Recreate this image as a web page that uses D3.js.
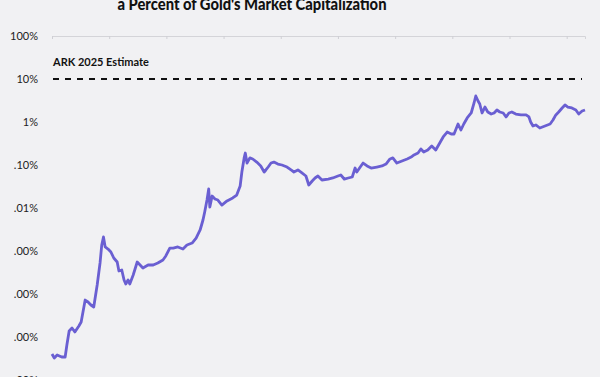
<!DOCTYPE html>
<html>
<head>
<meta charset="utf-8">
<script src="https://cdn.jsdelivr.net/npm/d3@7"></script>
<style>
  html, body { margin: 0; padding: 0; background: #f1f1f3; }
  svg { display: block; }
</style>
</head>
<body>
<svg id="chart" width="600" height="377"></svg>
<script>
// ---- data ----
const titleText = "a Percent of Gold's Market Capitalization";
const estimateLabel = "ARK 2025 Estimate";
const estimateValue = 10; // percent
const yTickValues = [100, 10, 1, 0.1, 0.01, 0.001, 0.0001, 0.00001, 0.000001];
const yTickLabels = ["100%", "10%", "1%", ".10%", ".01%", ".00%", ".00%", ".00%", ".00%"];
const xTickYears = [2010.54, 2011.54, 2012.54, 2013.54, 2014.54, 2015.54, 2016.54, 2017.54, 2018.54, 2019.54];
const years = [
  2010.54, 2010.58, 2010.63, 2010.71, 2010.77, 2010.80, 2010.84, 2010.89, 2010.94, 2011.01,
  2011.05, 2011.12, 2011.17, 2011.22, 2011.27, 2011.33, 2011.38, 2011.41, 2011.44, 2011.47,
  2011.52, 2011.57, 2011.62, 2011.68, 2011.71, 2011.76, 2011.80, 2011.83, 2011.87, 2011.90,
  2011.96, 2012.03, 2012.08, 2012.13, 2012.22, 2012.31, 2012.39, 2012.48, 2012.53, 2012.60,
  2012.66, 2012.74, 2012.83, 2012.90, 2012.99, 2013.06, 2013.13, 2013.18, 2013.21, 2013.25,
  2013.28, 2013.30, 2013.34, 2013.39, 2013.44, 2013.51, 2013.60, 2013.70, 2013.77, 2013.83,
  2013.86, 2013.90, 2013.92, 2013.95, 2014.00, 2014.05, 2014.12, 2014.19, 2014.25, 2014.28,
  2014.32, 2014.37, 2014.42, 2014.49, 2014.56, 2014.65, 2014.72, 2014.77, 2014.84, 2014.91,
  2014.98, 2015.03, 2015.09, 2015.14, 2015.19, 2015.26, 2015.37, 2015.45, 2015.54, 2015.59,
  2015.65, 2015.72, 2015.79, 2015.84, 2015.87, 2015.93, 2015.98, 2016.05, 2016.12, 2016.22,
  2016.31, 2016.38, 2016.45, 2016.50, 2016.57, 2016.66, 2016.75, 2016.82, 2016.87, 2016.94,
  2016.99, 2017.04, 2017.11, 2017.18, 2017.25, 2017.32, 2017.38, 2017.45, 2017.52, 2017.57,
  2017.64, 2017.69, 2017.74, 2017.80, 2017.87, 2017.92, 2017.95, 2017.99, 2018.02, 2018.06,
  2018.11, 2018.16, 2018.22, 2018.27, 2018.32, 2018.37, 2018.43, 2018.48, 2018.53, 2018.58,
  2018.65, 2018.74, 2018.83, 2018.88, 2018.91, 2018.95, 2019.00, 2019.07, 2019.16, 2019.25,
  2019.30, 2019.35, 2019.40, 2019.46, 2019.51, 2019.56, 2019.63, 2019.70, 2019.75, 2019.81,
  2019.86
];
const pctOfGold = [
  4.03e-6, 3.25e-6, 3.81e-6, 3.43e-6, 3.43e-6, 6.52e-6, 1.38e-5, 1.62e-5, 1.31e-5, 1.80e-5,
  2.23e-5, 7.24e-5, 6.52e-5, 5.55e-5, 4.99e-5, 1.62e-4, 5.26e-4, 1.38e-3, 2.12e-3, 1.24e-3,
  1.11e-3, 9.48e-4, 6.88e-4, 5.55e-4, 3.43e-4, 3.61e-4, 2.12e-4, 1.71e-4, 2.12e-4, 1.71e-4,
  2.77e-4, 5.55e-4, 4.72e-4, 4.03e-4, 4.72e-4, 4.72e-4, 5.26e-4, 6.18e-4, 7.66e-4, 1.17e-3,
  1.17e-3, 1.24e-3, 1.11e-3, 1.38e-3, 1.53e-3, 2.00e-3, 3.08e-3, 5.26e-3, 8.07e-3, 1.53e-2,
  2.77e-2, 1.05e-2, 1.90e-2, 1.62e-2, 1.53e-2, 1.17e-2, 1.46e-2, 1.71e-2, 2.00e-2, 3.25e-2,
  6.88e-2, 0.146, 0.190, 0.111, 0.146, 0.138, 0.117, 0.0948, 0.0688, 0.0766,
  0.0898, 0.111, 0.117, 0.105, 0.100, 0.0898, 0.0766, 0.0688, 0.0766, 0.0652,
  0.0555, 0.0343, 0.0425, 0.0499, 0.0555, 0.0448, 0.0472, 0.0499, 0.0555, 0.0585,
  0.0472, 0.0499, 0.0526, 0.0851, 0.0688, 0.0898, 0.111, 0.0948, 0.0851, 0.0898,
  0.0948, 0.105, 0.138, 0.146, 0.111, 0.124, 0.138, 0.153, 0.171, 0.190,
  0.236, 0.200, 0.223, 0.277, 0.223, 0.325, 0.448, 0.585, 0.526, 0.526,
  0.898, 0.652, 0.898, 1.24, 1.62, 2.77, 4.03, 3.08, 2.62, 1.62,
  2.23, 1.71, 1.53, 1.62, 1.90, 1.71, 1.62, 1.31, 1.62, 1.71,
  1.53, 1.46, 1.46, 1.31, 1.00, 0.807, 0.852, 0.725, 0.807, 0.898,
  1.11, 1.46, 1.71, 2.12, 2.49, 2.23, 2.12, 1.90, 1.53, 1.80,
  1.90
];

// ---- chart ----
const svg = d3.select("#chart");
const font = "Lato, 'Open Sans', sans-serif";

const x = d3.scaleLinear().domain([2010.54, 2019.86]).range([52, 585]);
const y = d3.scaleLog().domain([1e-6, 100]).range([380, 36]);

svg.append("rect").attr("width", 600).attr("height", 377).attr("fill", "#f1f1f3");

// title (partially cut at the top, as in the reference)
svg.append("text")
  .attr("x", 252).attr("y", 10)
  .attr("text-anchor", "middle")
  .attr("font-family", font).attr("font-weight", 900).attr("font-size", 17)
  .attr("textLength", 269).attr("lengthAdjust", "spacingAndGlyphs")
  .attr("fill", "#111")
  .text(titleText);

// top axis line with year ticks
const topAxis = d3.axisBottom(x).tickValues(xTickYears).tickSize(3).tickFormat("");
const gTop = svg.append("g").attr("transform", `translate(0,${y(100)})`).call(topAxis);
gTop.select(".domain").attr("stroke", "#d4d4d8").attr("stroke-width", 1);
gTop.selectAll(".tick line").attr("stroke", "#cfcfd4");

// y axis labels
const yAxis = d3.axisLeft(y).tickValues(yTickValues).tickSize(0).tickPadding(0)
  .tickFormat((d, i) => yTickLabels[i]);
const gY = svg.append("g").attr("transform", "translate(38,0)").call(yAxis);
gY.select(".domain").remove();
gY.selectAll("text").attr("font-family", font).attr("font-size", 11).attr("fill", "#222");

// estimate dashed line
svg.append("line")
  .attr("x1", x.range()[0] + 1).attr("x2", 582)
  .attr("y1", y(estimateValue)).attr("y2", y(estimateValue))
  .attr("stroke", "#111").attr("stroke-width", 1.8).attr("stroke-dasharray", "6,6");
svg.append("text")
  .attr("x", 53).attr("y", 66)
  .attr("font-family", font).attr("font-weight", 700).attr("font-size", 11)
  .attr("fill", "#111")
  .text(estimateLabel);

// data line
const data = years.map((yr, i) => ({ yr, v: pctOfGold[i] }));
svg.append("path")
  .datum(data)
  .attr("fill", "none")
  .attr("stroke", "#6a5fd2")
  .attr("stroke-width", 2.8)
  .attr("stroke-linejoin", "round")
  .attr("d", d3.line().x(d => x(d.yr)).y(d => y(d.v)));
</script>
</body>
</html>
